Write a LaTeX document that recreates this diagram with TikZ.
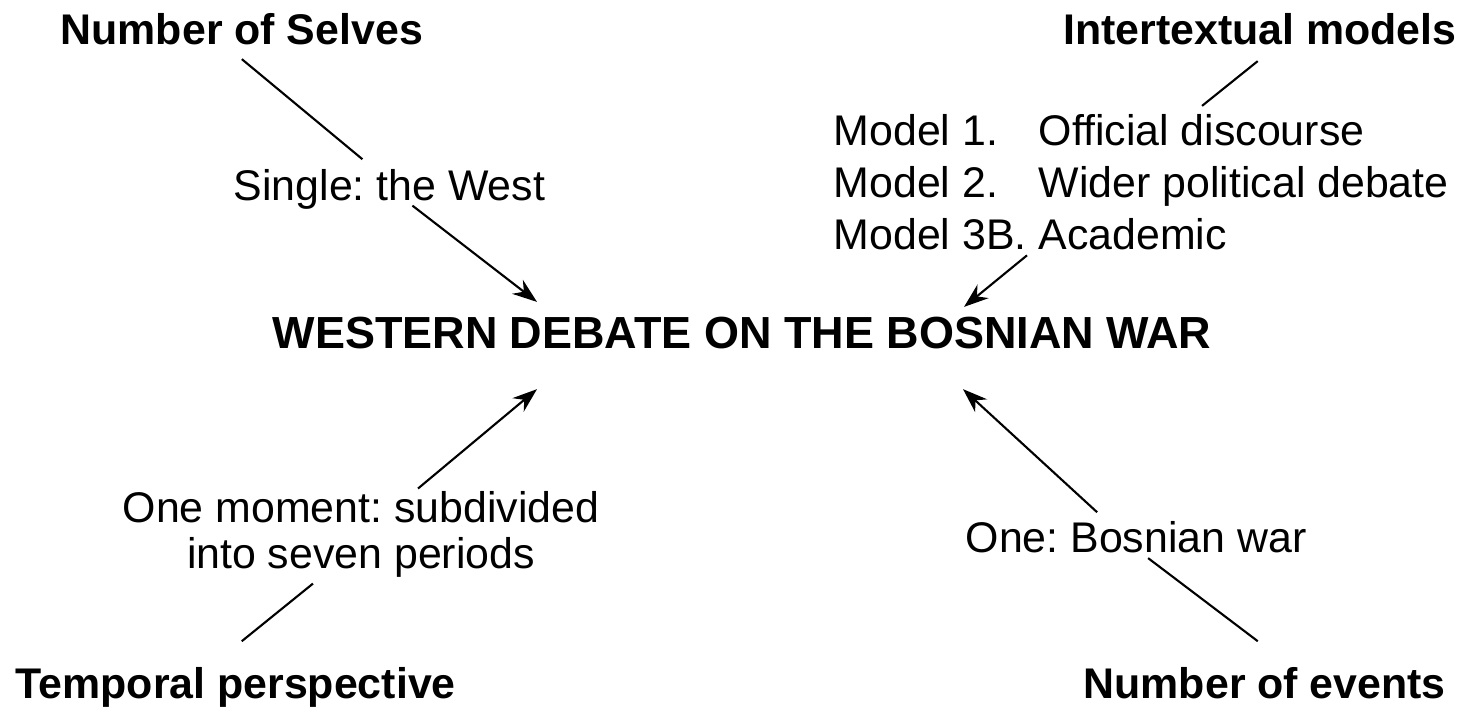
\documentclass[tikz,border=0pt]{standalone}
\usepackage{fontspec}
\setmainfont{Liberation Sans}
\usetikzlibrary{arrows, arrows.meta}
\usetikzlibrary{positioning}
\frenchspacing

\begin{document}
\begin{tikzpicture}[
  lbl/.style={inner sep=0pt, font=\fontsize{12.2}{14.8}\selectfont},
  hdr/.style={inner sep=0pt, font=\fontsize{12.2}{14.8}\selectfont\bfseries},
  ttl/.style={inner sep=0pt, font=\fontsize{12.8}{15}\selectfont\bfseries},
  conn/.style={line width=0.6pt},
  arr/.style={conn, -{Stealth[length=7pt, width=5pt]}}
]
\useasboundingbox (0,0) rectangle (14.64,7.06);

%headings
\node[hdr, anchor=base west] (selves) at (0.60,6.62) {Number of Selves};
\node[hdr, anchor=base east] (intertext) at (14.57,6.62) {Intertextual models};
\node[hdr, anchor=base west] (temporal) at (0.15,0.08) {Temporal perspective};
\node[hdr, anchor=base west] (events) at (10.83,0.08) {Number of events};

%centre
\node[ttl, anchor=base] (debate) at (7.42,3.58) {WESTERN DEBATE ON THE BOSNIAN WAR};

%values
\node[lbl, anchor=base west] (west) at (2.33,5.06) {Single: the West};
\node[lbl, anchor=base west] (models) at (8.33,5.61) {\begin{tabular}[t]{@{}l@{\hspace{0.12cm}}l@{}}
  Model 1. & Official discourse\\
  Model 2. & Wider political debate\\
  Model 3B. & Academic
\end{tabular}};
\node[lbl, anchor=base] (moment) at (3.61,1.84) {\renewcommand{\arraystretch}{0.9}\begin{tabular}[t]{@{}c@{}}
  One moment: subdivided\\
  into seven periods
\end{tabular}};
\node[lbl, anchor=base west] (bosnia) at (9.65,1.54) {One: Bosnian war};

%lines and arrows
\draw[conn] ([yshift=-0.14cm]selves.south) -- ([shift={(-0.27,0.09)}]west.north);
\draw[arr] ([shift={(0.23,0.04)}]west.south) -- ([shift={(-2.05,0.14)}]debate.north);
\draw[conn] ([shift={(-0.02,-0.16)}]intertext.south) -- ([shift={(3.69,0.02)}]models.north west);
\draw[arr] ([shift={(1.94,0.1)}]models.south west) -- ([shift={(2.22,0.09)}]debate.north);
\draw[arr] ([shift={(0.57,0)}]moment.north) -- ([shift={(-2.05,-0.4)}]debate.south);
\draw[conn] ([shift={(-0.48,0)}]moment.south) -- ([shift={(0.06,0.25)}]temporal.north);
\draw[arr] ([shift={(-0.39,0.08)}]bosnia.north) -- ([shift={(2.21,-0.4)}]debate.south);
\draw[conn] ([shift={(0.12,-0.05)}]bosnia.south) -- ([shift={(-0.07,0.25)}]events.north);

\end{tikzpicture}
\end{document}
